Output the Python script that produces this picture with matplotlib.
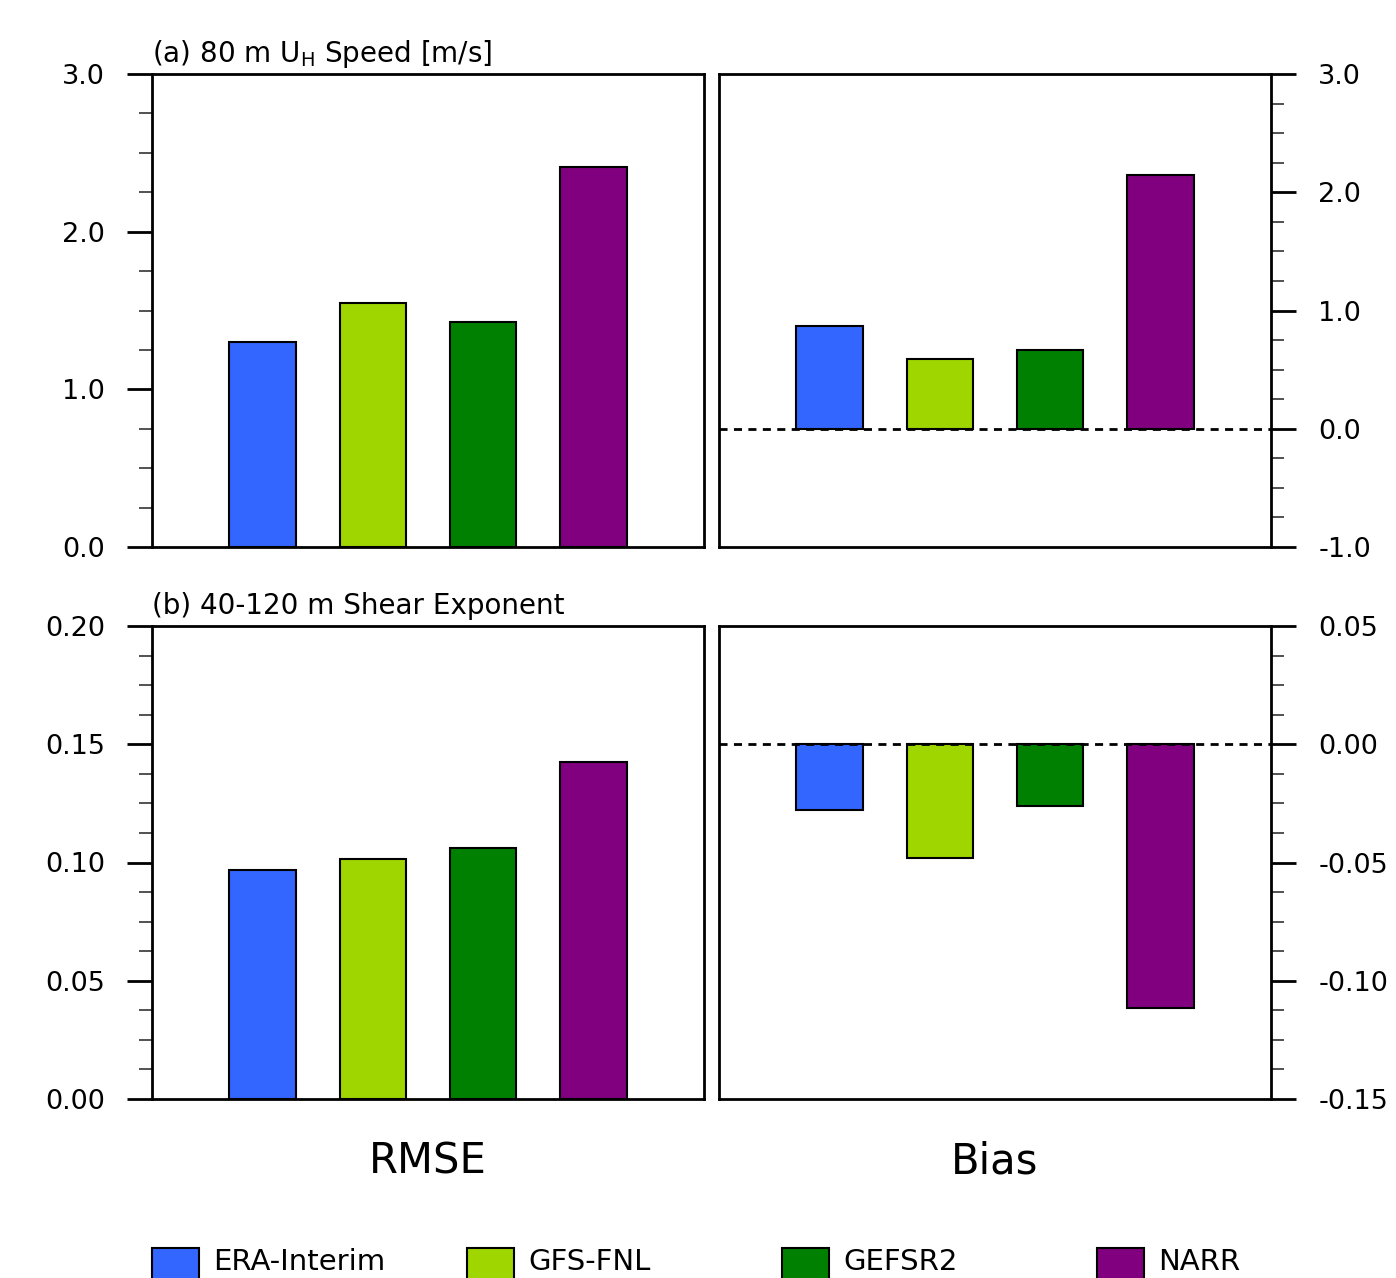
import matplotlib
matplotlib.use("Agg")
import matplotlib.pyplot as plt
from matplotlib.patches import Rectangle
import numpy as np

plt.rcParams['font.family'] = ['DejaVu Sans']
plt.rcParams['axes.unicode_minus'] = False

# data
models = ['ERA-Interim', 'GFS-FNL', 'GEFSR2', 'NARR']
colors = ['#3366FF', '#A0D600', '#008000', '#800080']
speed_rmse = [1.30, 1.55, 1.43, 2.41]
speed_bias = [0.87, 0.59, 0.67, 2.15]
shear_rmse = [0.097, 0.1015, 0.106, 0.1425]
shear_bias = [-0.028, -0.048, -0.026, -0.1115]

titles = [r'(a) 80 m U$_\mathregular{H}$ Speed [m/s]', '(b) 40-120 m Shear Exponent']
col_labels = ['RMSE', 'Bias']

fig = plt.figure(figsize=(13.96, 12.78), dpi=100)
W, H = 1396.0, 1278.0

xl = [152 / W, 719 / W]
aw = 552 / W
yb = [1 - 547 / H, 1 - 1099 / H]
ah = 473 / H

x = np.arange(1, len(models) + 1)


def style(ax, lo, hi, major, minor, fmt, right=False):
    ax.set_xlim(0, 5)
    ax.set_ylim(lo, hi)
    ax.set_yticks(np.arange(lo, hi + major / 2, major))
    ax.set_yticks(np.arange(lo, hi + minor / 2, minor), minor=True)
    ax.yaxis.set_major_formatter(plt.FormatStrFormatter(fmt))
    ax.tick_params(axis='x', bottom=False, labelbottom=False)
    ax.tick_params(axis='y', which='major', direction='out', length=18,
                   width=2, pad=16, labelsize=19.5)
    ax.tick_params(axis='y', which='minor', direction='out', length=9.5,
                   width=1.2, color='#333333')
    if right:
        ax.yaxis.tick_right()
        ax.tick_params(axis='y', which='both', left=False, right=True,
                       labelleft=False, labelright=True)
    for s in ax.spines.values():
        s.set_linewidth(2)


rows = [
    (speed_rmse, speed_bias, (0.0, 3.0, 1.0, 0.25, '%.1f'), (-1.0, 3.0, 1.0, 0.25, '%.1f')),
    (shear_rmse, shear_bias, (0.0, 0.20, 0.05, 0.0125, '%.2f'), (-0.15, 0.05, 0.05, 0.0125, '%.2f')),
]

for r, (rmse, bias, lscale, rscale) in enumerate(rows):
    axl = fig.add_axes([xl[0], yb[r], aw, ah])
    axr = fig.add_axes([xl[1], yb[r], aw, ah])

    axl.bar(x, rmse, width=0.6, color=colors, edgecolor='black', linewidth=1.5, zorder=2)
    axr.bar(x, bias, width=0.6, color=colors, edgecolor='black', linewidth=1.5, zorder=2)
    axr.axhline(0, color='black', linestyle=(0, (2.9, 2.3)), linewidth=2.0, zorder=3)

    style(axl, *lscale)
    style(axr, *rscale, right=True)

    axl.annotate(titles[r], xy=(0, 1), xycoords='axes fraction', xytext=(0, 9),
                 textcoords='offset points', ha='left', va='baseline', fontsize=20)

# column labels under the bottom panels
for i, lab in enumerate(col_labels):
    fig.text(xl[i] + aw / 2, 1 - 1174 / H, lab, ha='center', va='baseline', fontsize=30)

# legend row along the bottom edge
for i, (m, c) in enumerate(zip(models, colors)):
    x0 = (152 + 315 * i) / W
    fig.add_artist(Rectangle((x0, 1 - 1295 / H), 47 / W, 47 / H, facecolor=c,
                             edgecolor='black', linewidth=1.5,
                             transform=fig.transFigure))
    fig.text(x0 + 61 / W, 1 - 1270 / H, m, ha='left', va='baseline', fontsize=21)

fig.savefig('out.png', dpi=100)
